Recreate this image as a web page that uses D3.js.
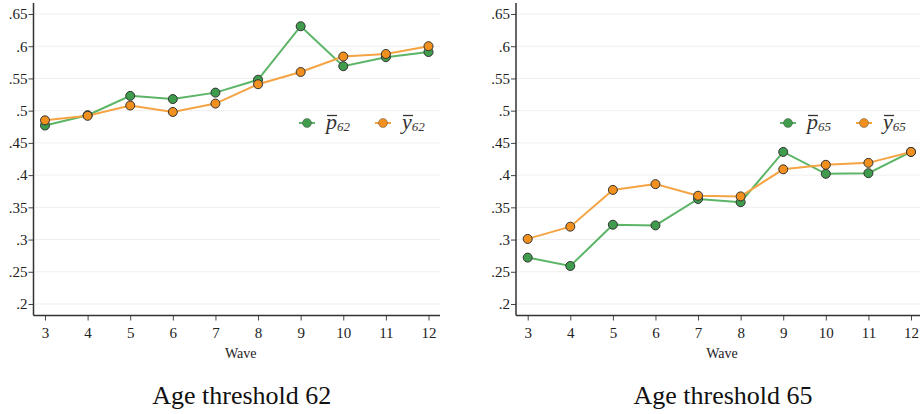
<!DOCTYPE html>
<html><head><meta charset="utf-8">
<script src="https://cdn.jsdelivr.net/npm/d3@7"></script>
<style>body{margin:0;background:#fff}svg{display:block}svg text{font-family:'Liberation Serif','Times New Roman',serif}</style>
</head><body>
<svg id="c" width="922" height="414"></svg>
<script>
const waves = [3,4,5,6,7,8,9,10,11,12];
const yTicks = [0.2,0.25,0.3,0.35,0.4,0.45,0.5,0.55,0.6,0.65];
const yTickLabels = [".2",".25",".3",".35",".4",".45",".5",".55",".6",".65"];
const p62 = [0.477,0.493,0.523,0.518,0.528,0.548,0.631,0.569,0.583,0.591];
const y62 = [0.485,0.492,0.508,0.498,0.511,0.541,0.560,0.584,0.588,0.600];
const p65 = [0.272,0.259,0.323,0.322,0.363,0.358,0.436,0.402,0.403,0.436];
const y65 = [0.301,0.320,0.377,0.386,0.368,0.367,0.409,0.416,0.419,0.436];
const panels = [
  {title:"Age threshold 62", sub:"62", p:p62, y:y62, axisX:33.5, x3:45, x12:428.5, right:440, legX:307},
  {title:"Age threshold 65", sub:"65", p:p65, y:y65, axisX:516, x3:527.7, x12:911, right:920, legX:788}
];
const svg = d3.select("#c");
const font = "'Liberation Serif', 'Times New Roman', serif";
const green = {line:"#5cb567", fill:"#3f9c4d"};
const orange = {line:"#f5a444", fill:"#f2901f"};
const ys = d3.scaleLinear().domain([0.2,0.65]).range([304,14]);

panels.forEach(P => {
  const xs = d3.scaleLinear().domain([3,12]).range([P.x3,P.x12]);
  const g = svg.append("g");
  g.selectAll("line.grid").data(yTicks).join("line")
    .attr("x1",P.axisX+1).attr("x2",P.right)
    .attr("y1",d=>ys(d)).attr("y2",d=>ys(d))
    .attr("stroke","#efefef").attr("stroke-width",1);
  const ya = d3.axisLeft(ys).tickValues(yTicks).tickFormat((d,i)=>yTickLabels[i]).tickSize(5).tickSizeOuter(0);
  const yg = g.append("g").attr("transform",`translate(${P.axisX},0)`).call(ya)
    .attr("font-family",null).attr("font-size",null);
  yg.select(".domain").remove();
  yg.selectAll(".tick line").attr("stroke","#444");
  yg.selectAll("text").style("font-family",font).style("font-size","15px").attr("fill","#222").attr("x",-6);
  g.append("line").attr("x1",P.axisX).attr("x2",P.axisX).attr("y1",3).attr("y2",315.5).attr("stroke","#333").attr("stroke-width",1.5);
  const xa = d3.axisBottom(xs).tickValues(waves).tickFormat(d3.format("d")).tickSize(5).tickSizeOuter(0);
  const xg = g.append("g").attr("transform","translate(0,315.5)").call(xa)
    .attr("font-family",null).attr("font-size",null);
  xg.select(".domain").remove();
  xg.selectAll(".tick line").attr("stroke","#444");
  xg.selectAll("text").style("font-family",font).style("font-size","15px").attr("fill","#222").attr("y",9).attr("dy","0.9em");
  g.append("line").attr("x1",P.axisX).attr("x2",P.right).attr("y1",315.5).attr("y2",315.5).attr("stroke","#333").attr("stroke-width",1.5);
  g.append("text").attr("x",(P.axisX+P.right)/2+4).attr("y",358).attr("text-anchor","middle")
    .style("font-family",font).style("font-size","14px").attr("fill","#222").text("Wave");
  g.append("text").attr("x",(P.axisX+P.right)/2+5).attr("y",404).attr("text-anchor","middle")
    .style("font-family",font).style("font-size","26px").attr("fill","#111").text(P.title);
  const line = d3.line().x((d,i)=>xs(waves[i])).y(d=>ys(d));
  [[P.p,green],[P.y,orange]].forEach(([arr,c]) => {
    g.append("path").attr("d",line(arr)).attr("fill","none").attr("stroke",c.line).attr("stroke-width",2);
  });
  [[P.p,green],[P.y,orange]].forEach(([arr,c]) => {
    g.selectAll(null).data(arr).join("circle")
      .attr("cx",(d,i)=>xs(waves[i])).attr("cy",d=>ys(d)).attr("r",4.5)
      .attr("fill",c.fill).attr("stroke","#333").attr("stroke-width",1);
  });
  const legs = [{c:green,ch:"p"},{c:orange,ch:"y"}];
  legs.forEach((L,i) => {
    const cx = P.legX + i*76;
    g.append("line").attr("x1",cx-8).attr("x2",cx+8).attr("y1",123).attr("y2",123).attr("stroke",L.c.line).attr("stroke-width",2);
    g.append("circle").attr("cx",cx).attr("cy",123).attr("r",4.5).attr("fill",L.c.fill).attr("stroke","#555").attr("stroke-opacity",0.5).attr("stroke-width",1);
    const t = g.append("text").attr("x",cx+19).attr("y",129).style("font-family",font).attr("fill","#333");
    t.append("tspan").style("font-size","22px").style("font-style","italic").text(L.ch);
    t.append("tspan").style("font-size","13px").style("font-style","italic").attr("dy",2).text(P.sub);
    g.append("line").attr("x1",cx+20).attr("x2",cx+30).attr("y1",115.5).attr("y2",115.5).attr("stroke","#333").attr("stroke-width",1.3);
  });
});
</script>
</body></html>
